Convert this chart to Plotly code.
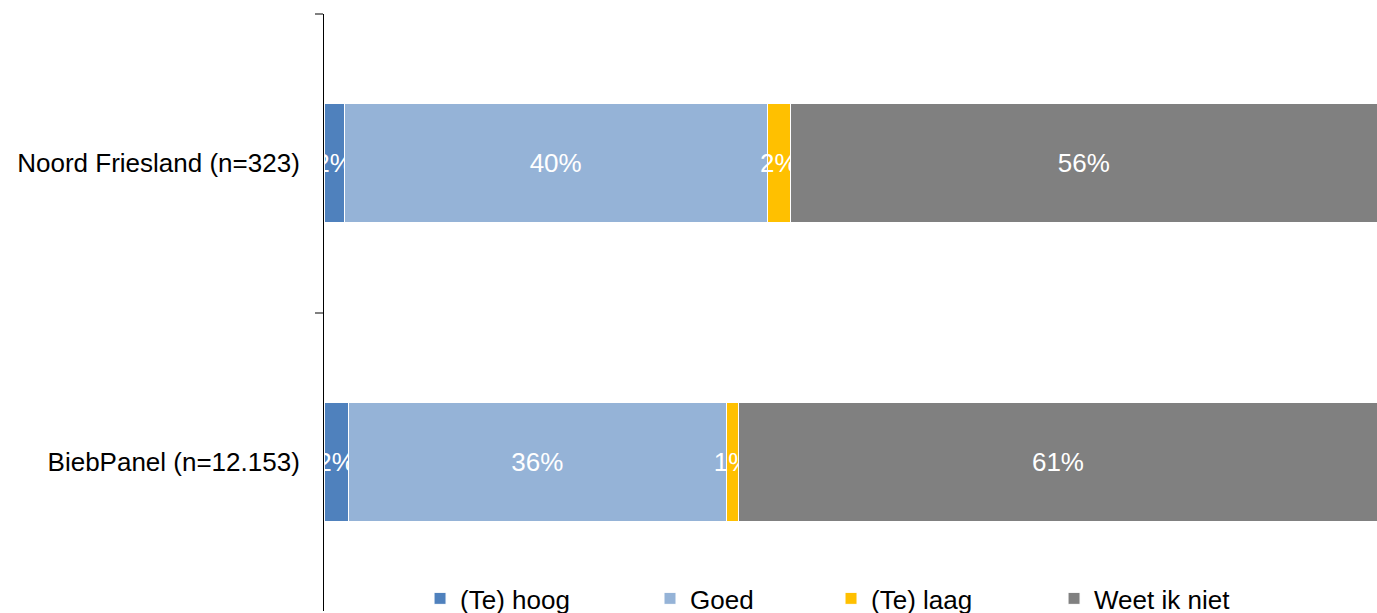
import plotly.graph_objects as go

categories = ["Noord Friesland (n=323)", "BiebPanel (n=12.153)"]
series_names = ["(Te) hoog", "Goed", "(Te) laag", "Weet ik niet"]
te_hoog = [1.9, 2.3]
goed = [40.2, 35.9]
te_laag = [2.2, 1.2]
weet_niet = [55.7, 60.6]

series_values = [te_hoog, goed, te_laag, weet_niet]
colors = ["#4F81BD", "#95B3D7", "#FFC000", "#808080"]
legend_ids = ["legend", "legend2", "legend3", "legend4"]
legend_x = [0.0912, 0.3096, 0.4815, 0.6933]

FONT = "Liberation Sans, Arial, sans-serif"

fig = go.Figure()
for name, vals, col, lid in zip(series_names, series_values, colors, legend_ids):
    fig.add_trace(go.Bar(
        y=categories, x=vals, name=name, orientation="h",
        marker=dict(color=col, line=dict(color="white", width=1)),
        width=0.4,
        texttemplate="%{x:.0f}%", textposition="inside",
        insidetextanchor="middle", textangle=0, constraintext="none",
        textfont=dict(color="white", size=26, family=FONT),
        cliponaxis=False, legend=lid, hoverinfo="skip", showlegend=True,
    ))

layout_legends = {}
for lid, lx in zip(legend_ids, legend_x):
    layout_legends[lid] = dict(
        x=lx, y=0.021, xanchor="left", yanchor="middle", orientation="h",
        bgcolor="rgba(0,0,0,0)", font=dict(size=26, family=FONT, color="black"),
        itemwidth=30, visible=True,
    )

fig.update_layout(
    width=1377, height=613,
    margin=dict(l=324, r=0, t=14, b=2, autoexpand=False),
    showlegend=True,
    barmode="stack",
    plot_bgcolor="white", paper_bgcolor="white",
    bargap=0.6,
    xaxis=dict(range=[0, 100], visible=False, fixedrange=True),
    yaxis=dict(
        type="category", categoryorder="array", categoryarray=categories,
        autorange="reversed", automargin=False,
        showline=True, linecolor="black", linewidth=1,
        ticks="outside", tickson="boundaries", ticklen=8, tickcolor="#808080", tickwidth=2,
        ticklabelstandoff=18,
        tickfont=dict(size=26, family=FONT, color="black"),
        showgrid=False, zeroline=False,
    ),
    **layout_legends,
)

fig.write_html(
    "out.html",
    config={"displayModeBar": False},
    post_script="document.body.style.margin='0';document.body.style.overflow='hidden';",
)
